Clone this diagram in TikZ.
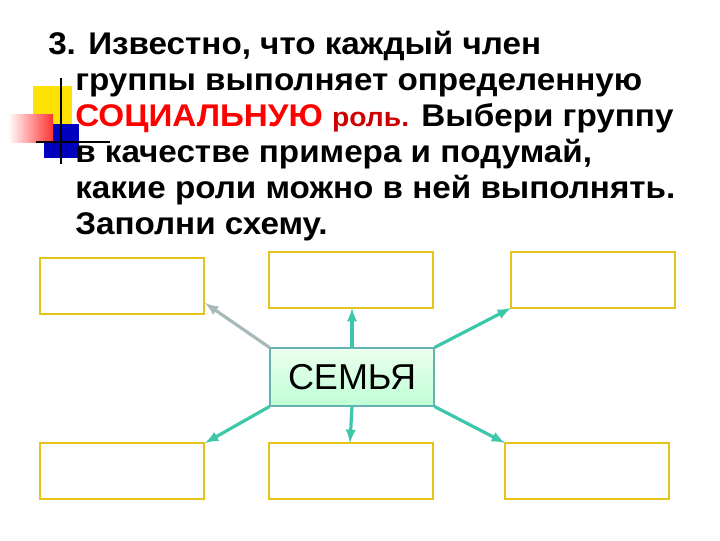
\documentclass[tikz,border=0pt]{standalone}
\usepackage{fontspec}
\setmainfont{Liberation Sans}
\definecolor{mint}{HTML}{3CC8A8}
\begin{document}
\begin{tikzpicture}[x=0.75pt,y=-0.75pt,
  box/.style={draw=yellow!70!orange!90!black,line width=1.5pt},
  tl/.style={anchor=base west,inner sep=0pt,xscale=1.06,font=\fontsize{23.5}{26}\selectfont\bfseries},
  arr/.style={draw=mint,line width=2.4pt,-latex}]
\useasboundingbox (0,0) rectangle (720,540);
% logo
\fill[yellow!85!orange] (33,86) rectangle (72,124);
\fill[blue!75!black] (44,124) rectangle (79,158);
\shade[left color=white,right color=red!80] (8,114) rectangle (53,142);
\draw[line width=1.5pt] (61,78) -- (61,164);
\draw[line width=1.5pt] (36,142) -- (110,142);
% text
\node[tl] (l1) at (48,54) {3. Известно, что каждый член};
\node[tl] (l2) at (75,90) {группы выполняет определенную};
\node[tl] (l3) at (75,126) {\textcolor{red}{СОЦИАЛЬНУЮ} {\color{red!80!black}\fontsize{20}{22}\selectfont роль.} Выбери группу};
\node[tl] (l4) at (75,162) {в качестве примера и подумай,};
\node[tl] (l5) at (75,198) {какие роли можно в ней выполнять.};
\node[tl] (l6) at (75,234) {Заполни схему.};
% boxes
\draw[box] (40,258) rectangle (204,314);
\draw[box] (269,252) rectangle (433,308);
\draw[box] (511,252) rectangle (675,308);
\draw[box] (40,443) rectangle (204,499);
\draw[box] (269,443) rectangle (433,499);
\draw[box] (505,443) rectangle (669,499);
\node[draw=teal!60,top color=cyan!10!green!8,bottom color=cyan!35!green!25,line width=0.8pt,minimum width=123pt,minimum height=43.5pt,inner sep=0pt,font=\fontsize{27}{30}\selectfont] (c) at (352,377) {СЕМЬЯ};
\coordinate (t1) at (205,303);
\coordinate (t2) at (352,308);
\coordinate (t3) at (511,308);
\coordinate (t4) at (205,443);
\coordinate (t5) at (350,443);
\coordinate (t6) at (505,443);
\draw[arr,draw=teal!25!gray!55] (c.north west) -- (t1);
\draw[arr] (c.north) -- (t2);
\draw[arr] (c.north east) -- (t3);
\draw[arr] (c.south west) -- (t4);
\draw[arr] (c.south) -- (t5);
\draw[arr] (c.south east) -- (t6);
\end{tikzpicture}
\end{document}
